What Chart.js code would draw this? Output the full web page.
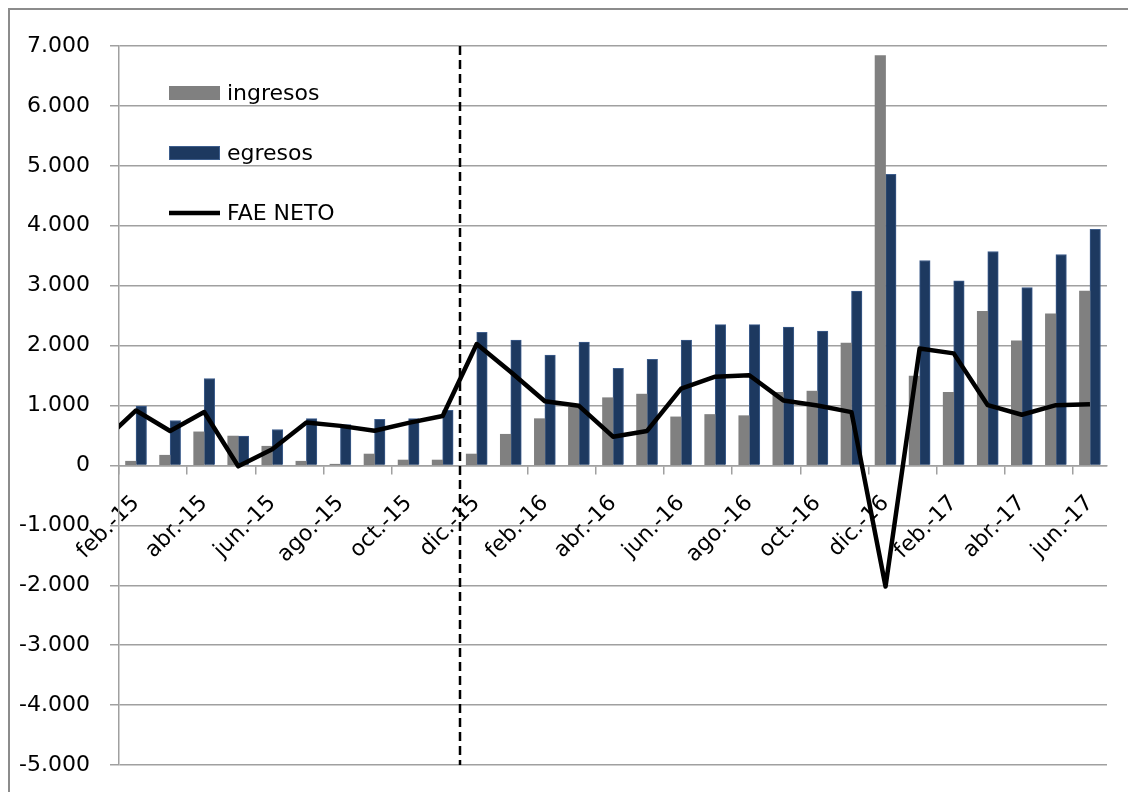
<!DOCTYPE html>
<html>
<head>
<meta charset="utf-8">
<title>FAE ingresos / egresos</title>
<script src="https://cdn.jsdelivr.net/npm/chart.js@4.4.1/dist/chart.umd.min.js"></script>
<style>
  html, body { margin: 0; padding: 0; background: #fff; overflow: hidden; }
  .chart-wrap { position: relative; width: 1128px; height: 792px; }
  .frame {
    position: absolute; left: 8px; top: 8px; width: 1300px; height: 1000px;
    border-left: 2px solid #8c8c8c; border-top: 2px solid #8c8c8c;
    pointer-events: none;
  }
</style>
</head>
<body>
<div class="chart-wrap">
  <div class="frame"></div>
  <canvas id="faeChart"></canvas>
</div>
<script>
// Monthly categories (feb.-15 to jun.-17)
const months = [
  'feb.-15', 'mar.-15', 'abr.-15', 'may.-15', 'jun.-15', 'jul.-15', 'ago.-15', 'sep.-15', 'oct.-15', 'nov.-15', 'dic.-15',
  'ene.-16', 'feb.-16', 'mar.-16', 'abr.-16', 'may.-16', 'jun.-16', 'jul.-16', 'ago.-16', 'sep.-16', 'oct.-16', 'nov.-16', 'dic.-16',
  'ene.-17', 'feb.-17', 'mar.-17', 'abr.-17', 'may.-17', 'jun.-17'
];

// Values
const ingresos = [
  70, 170, 560, 490, 320, 70, 20, 190, 90, 90, 190,
  520, 780, 970, 1130, 1190, 810, 850, 830, 1220, 1240, 2040, 6840,
  1490, 1220, 2570, 2080, 2530, 2910
];
const egresos = [
  990, 750, 1450, 490, 600, 780, 680, 770, 780, 920, 2220,
  2090, 1840, 2060, 1620, 1770, 2090, 2350, 2350, 2310, 2240, 2910, 4860,
  3420, 3080, 3570, 2970, 3520, 3940
];
const faeNeto = [
  917, 575, 892, -15, 270, 715, 660, 578, 710, 825, 2025,
  1560, 1070, 995, 480, 575, 1283, 1480, 1505, 1085, 1000, 890, -2020,
  1950, 1870, 1005, 845, 1005, 1020
];
// ene.-15: only the end of its segment shows at the left edge of the plot
const faeNetoEne15 = 385;

// Y axis range
const yMin = -5000;
const yMax = 7000;
const yStep = 1000;

// Break marker between nov.-15 and dic.-15
const breakAfter = 'nov.-15';

function formatThousands(v) {
  const s = Math.abs(v).toString().replace(/\B(?=(\d{3})+(?!\d))/g, '.');
  return (v < 0 ? '-' : '') + s;
}

const FONT = 'DejaVu Sans';
const FONT_SIZE = 22;

// Line points on a hidden linear axis so the ene.-15 segment can run off the left edge
const faeLine = [faeNetoEne15].concat(faeNeto).map((v, i) => ({ x: i - 1, y: v }));

// Dashed vertical marker
const breakLinePlugin = {
  id: 'breakLine',
  afterDatasetsDraw(chart) {
    const xl = chart.scales.xl;
    const area = chart.chartArea;
    const px = Math.round(xl.getPixelForValue(months.indexOf(breakAfter) + 0.5));
    const ctx = chart.ctx;
    ctx.save();
    ctx.strokeStyle = '#000';
    ctx.lineWidth = 2.5;
    ctx.setLineDash([9, 5]);
    ctx.beginPath();
    ctx.moveTo(px, area.top);
    ctx.lineTo(px, area.bottom);
    ctx.stroke();
    ctx.restore();
  }
};

// Legend drawn inside the plot, top-left, stacked
const insideLegendPlugin = {
  id: 'insideLegend',
  afterDraw(chart) {
    const ctx = chart.ctx;
    const left = 169, boxW = 51, gap = 7, firstY = 93, step = 60;
    const items = ['ingresos', 'egresos', 'FAE NETO'].map(l => chart.data.datasets.find(d => d.label === l));
    ctx.save();
    ctx.font = FONT_SIZE + 'px "' + FONT + '"';
    ctx.textBaseline = 'middle';
    items.forEach((ds, i) => {
      const cy = firstY + i * step;
      if (ds.type === 'line') {
        ctx.strokeStyle = ds.borderColor;
        ctx.lineWidth = 4.5;
        ctx.beginPath();
        ctx.moveTo(left, cy);
        ctx.lineTo(left + boxW, cy);
        ctx.stroke();
      } else {
        ctx.fillStyle = ds.backgroundColor;
        ctx.fillRect(left, cy - 7, boxW, 14);
        ctx.strokeStyle = ds.borderColor;
        ctx.lineWidth = 1;
        ctx.strokeRect(left + 0.5, cy - 6.5, boxW - 1, 13);
      }
      ctx.fillStyle = '#000';
      ctx.fillText(ds.label, left + boxW + gap, cy + 1);
    });
    ctx.restore();
  }
};

// Line listed first so it is drawn on top of the bars
new Chart(document.getElementById('faeChart'), {
  type: 'bar',
  data: {
    labels: months,
    datasets: [
      {
        type: 'line',
        label: 'FAE NETO',
        data: faeLine,
        xAxisID: 'xl',
        borderColor: '#000',
        borderWidth: 4.5,
        borderJoinStyle: 'round',
        pointRadius: 0,
        tension: 0,
        fill: false
      },
      {
        label: 'ingresos',
        data: ingresos,
        backgroundColor: '#808080',
        borderColor: '#808080',
        borderWidth: 0,
        barThickness: 10.5
      },
      {
        label: 'egresos',
        data: egresos,
        backgroundColor: '#1d3960',
        borderColor: '#3d5d8c',
        borderWidth: 1,
        barThickness: 10.5
      }
    ]
  },
  options: {
    responsive: true,
    maintainAspectRatio: false,
    animation: false,
    layout: { padding: { left: 0, top: 46, right: 21, bottom: 27 } },
    plugins: {
      legend: { display: false },
      tooltip: { enabled: false }
    },
    scales: {
      x: {
        type: 'category',
        position: { y: 0 },
        offset: true,
        afterFit: (s) => { s.paddingTop = 0; s.paddingBottom = 0; },
        grid: {
          offset: true,
          drawOnChartArea: false,
          drawTicks: true,
          tickLength: 8,
          lineWidth: 1.5,
          color: (c) => (c.index !== undefined && c.index % 2 === 0) ? '#a0a0a0' : 'rgba(0,0,0,0)'
        },
        border: { display: true, color: '#a0a0a0', width: 1.5 },
        ticks: {
          autoSkip: false,
          minRotation: 45,
          maxRotation: 45,
          padding: 17,
          color: '#000',
          font: { family: FONT, size: FONT_SIZE },
          callback: (val, i) => (i % 2 === 0 ? months[i] : '')
        }
      },
      xl: {
        type: 'linear',
        display: false,
        offset: false,
        grid: { offset: false },
        min: -0.5,
        max: months.length - 0.5
      },
      y: {
        min: yMin,
        max: yMax,
        afterFit: (scale) => {
          scale.width = 119;
          scale.paddingTop = 0;
          scale.paddingBottom = 0;
        },
        grid: {
          color: '#a0a0a0',
          lineWidth: 1.5,
          drawTicks: true,
          tickLength: 9
        },
        border: { display: true, color: '#a0a0a0', width: 1.5 },
        ticks: {
          stepSize: yStep,
          padding: 20,
          color: '#000',
          font: { family: FONT, size: FONT_SIZE },
          callback: (v) => formatThousands(v)
        }
      }
    }
  },
  plugins: [breakLinePlugin, insideLegendPlugin]
});
</script>
</body>
</html>
